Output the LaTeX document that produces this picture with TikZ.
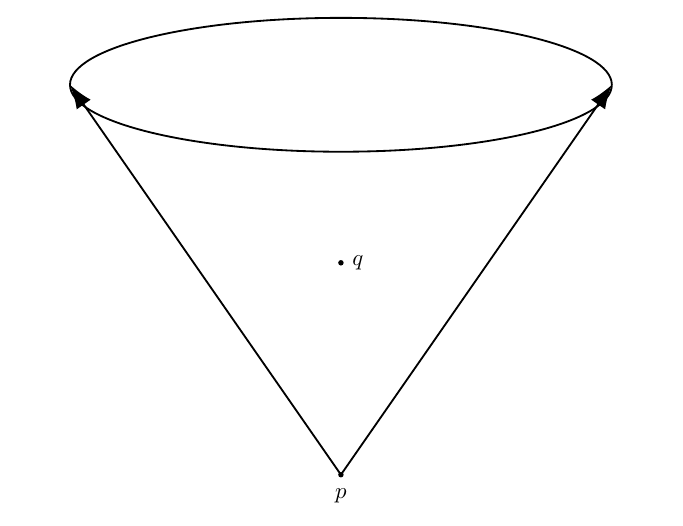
\documentclass[tikz,border=0pt]{standalone}
\usetikzlibrary{arrows.meta}

\begin{document}
\begin{tikzpicture}[x=1cm,y=1cm]
  \useasboundingbox (0, 0) rectangle (10.51, 8.09);

  \coordinate (c) at (5.246, 6.785);
  \coordinate (l) at (1.077, 6.785);
  \coordinate (r) at (9.415, 6.785);
  \coordinate (p) at (5.246, 0.785);
  \coordinate (q) at (5.246, 4.046);

  \draw[thick] (c) ellipse (4.169 and 1.03);

  \draw[thick, -{Latex[length=10.5pt, width=7.5pt]}] (p) -- (l);
  \draw[thick, -{Latex[length=10.5pt, width=7.5pt]}] (p) -- (r);

  \fill (p) circle (1.2pt) node[below=2.5pt] (pl) {$p$};
  \fill (q) circle (1.2pt) node[right=1.5pt] (ql) {$q$};
\end{tikzpicture}
\end{document}
